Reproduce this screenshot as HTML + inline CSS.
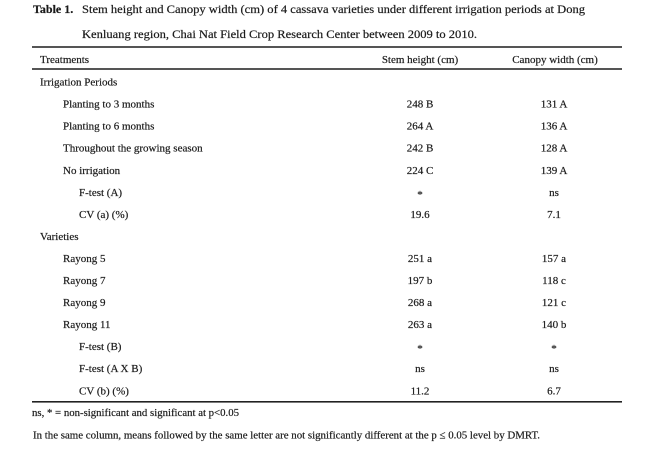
<!DOCTYPE html>
<html>
<head>
<meta charset="utf-8">
<style>
html,body{margin:0;padding:0;background:#fff;}
svg{display:block;}
text{font-family:"Liberation Serif","Times New Roman",serif;fill:#1a1a1a;stroke:#1a1a1a;stroke-width:0.2px;}
.t{font-size:11px;}
.c{text-anchor:middle;}
</style>
</head>
<body>
<svg width="650" height="450" viewBox="0 0 650 450" xmlns="http://www.w3.org/2000/svg">
<rect width="650" height="450" fill="#fff"/>
<!-- Title -->
<text x="33" y="13" style="font-size:12px;font-weight:bold">Table 1.</text>
<text x="82" y="13" style="font-size:12px" textLength="503" lengthAdjust="spacingAndGlyphs">Stem height and Canopy width (cm) of 4 cassava varieties under different irrigation periods at Dong</text>
<text x="82" y="38" style="font-size:12px" textLength="395" lengthAdjust="spacingAndGlyphs">Kenluang region, Chai Nat Field Crop Research Center between 2009 to 2010.</text>

<!-- Rules -->
<rect x="32" y="46" width="590" height="2" fill="#555"/>
<rect x="32" y="68" width="590" height="2" fill="#555"/>
<rect x="32" y="401" width="590" height="1.6" fill="#222"/>

<!-- Header -->
<text class="t" x="40" y="63">Treatments</text>
<text class="t c" x="420" y="63">Stem height (cm)</text>
<text class="t c" x="555" y="63">Canopy width (cm)</text>

<!-- Irrigation -->
<text class="t" x="40" y="85.5">Irrigation Periods</text>

<text class="t" x="63" y="107.5">Planting to 3 months</text>
<text class="t c" x="420" y="107.5">248 B</text>
<text class="t c" x="554" y="107.5">131 A</text>

<text class="t" x="63" y="129.5">Planting to 6 months</text>
<text class="t c" x="420" y="129.5">264 A</text>
<text class="t c" x="554" y="129.5">136 A</text>

<text class="t" x="63" y="151.5">Throughout the growing season</text>
<text class="t c" x="420" y="151.5">242 B</text>
<text class="t c" x="554" y="151.5">128 A</text>

<text class="t" x="63" y="174">No irrigation</text>
<text class="t c" x="420" y="174">224 C</text>
<text class="t c" x="554" y="174">139 A</text>

<text class="t" x="79" y="196">F-test (A)</text>
<text class="t c" x="420" y="198">*</text>
<text class="t c" x="554" y="196">ns</text>

<text class="t" x="79" y="218">CV (a) (%)</text>
<text class="t c" x="420" y="218">19.6</text>
<text class="t c" x="554" y="218">7.1</text>

<!-- Varieties -->
<text class="t" x="40" y="240">Varieties</text>

<text class="t" x="63" y="262">Rayong 5</text>
<text class="t c" x="420" y="262">251 a</text>
<text class="t c" x="554" y="262">157 a</text>

<text class="t" x="63" y="284">Rayong 7</text>
<text class="t c" x="420" y="284">197 b</text>
<text class="t c" x="554" y="284">118 c</text>

<text class="t" x="63" y="306">Rayong 9</text>
<text class="t c" x="420" y="306">268 a</text>
<text class="t c" x="554" y="306">121 c</text>

<text class="t" x="63" y="328">Rayong 11</text>
<text class="t c" x="420" y="328">263 a</text>
<text class="t c" x="554" y="328">140 b</text>

<text class="t" x="79" y="350">F-test (B)</text>
<text class="t c" x="420" y="352">*</text>
<text class="t c" x="554" y="352">*</text>

<text class="t" x="79" y="372">F-test (A X B)</text>
<text class="t c" x="420" y="372">ns</text>
<text class="t c" x="554" y="372">ns</text>

<text class="t" x="79" y="394.5">CV (b) (%)</text>
<text class="t c" x="420" y="394.5">11.2</text>
<text class="t c" x="554" y="394.5">6.7</text>

<!-- Footnotes -->
<text class="t" x="32" y="416" textLength="207" lengthAdjust="spacingAndGlyphs">ns, * = non-significant and significant at p&lt;0.05</text>
<text class="t" x="33" y="438.5" textLength="507" lengthAdjust="spacingAndGlyphs">In the same column, means followed by the same letter are not significantly different at the p ≤ 0.05 level by DMRT.</text>
</svg>
</body>
</html>
